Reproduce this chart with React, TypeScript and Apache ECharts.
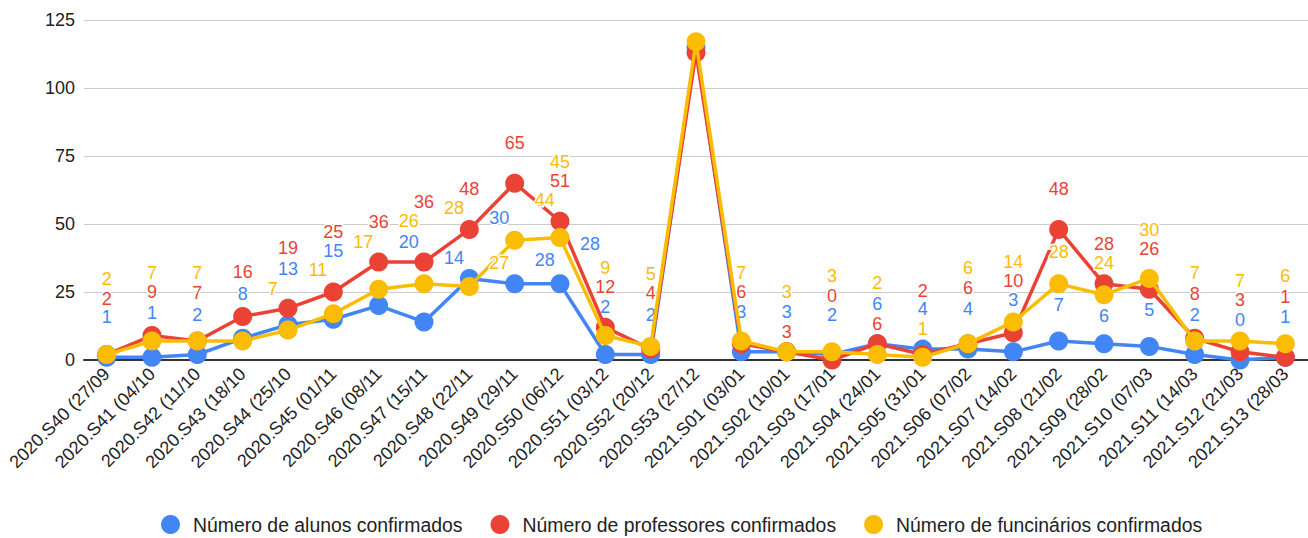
import React, { useEffect, useRef } from 'react';
import * as echarts from 'echarts';

const categories = [
  '2020.S40 (27/09', '2020.S41 (04/10', '2020.S42 (11/10', '2020.S43 (18/10', '2020.S44 (25/10',
  '2020.S45 (01/11', '2020.S46 (08/11', '2020.S47 (15/11', '2020.S48 (22/11', '2020.S49 (29/11',
  '2020.S50 (06/12', '2020.S51 (03/12', '2020.S52 (20/12', '2020.S53 (27/12',
  '2021.S01 (03/01', '2021.S02 (10/01', '2021.S03 (17/01', '2021.S04 (24/01', '2021.S05 (31/01',
  '2021.S06 (07/02', '2021.S07 (14/02', '2021.S08 (21/02', '2021.S09 (28/02', '2021.S10 (07/03',
  '2021.S11 (14/03', '2021.S12 (21/03', '2021.S13 (28/03',
];

const alunos = [1, 1, 2, 8, 13, 15, 20, 14, 30, 28, 28, 2, 2, 115, 3, 3, 2, 6, 4, 4, 3, 7, 6, 5, 2, 0, 1];
const professores = [2, 9, 7, 16, 19, 25, 36, 36, 48, 65, 51, 12, 4, 113, 6, 3, 0, 6, 2, 6, 10, 48, 28, 26, 8, 3, 1];
const funcionarios = [2, 7, 7, 7, 11, 17, 26, 28, 27, 44, 45, 9, 5, 117, 7, 3, 3, 2, 1, 6, 14, 28, 24, 30, 7, 7, 6];

const seriesNames = [
  'Número de alunos confirmados',
  'Número de professores confirmados',
  'Número de funcinários confirmados',
];
const seriesColors = ['#4285F4', '#EA4335', '#FBBC04'];

const yMin = 0;
const yMax = 125;
const yInterval = 25;

const FONT = '"Liberation Sans", Arial, sans-serif';
const LABEL_SIZE = 18;
const MARK = 19;

type Rect = { x1: number; y1: number; x2: number; y2: number };

export default function App() {
  const ref = useRef<HTMLDivElement>(null);

  useEffect(() => {
    document.body.style.margin = '0';
    const el = ref.current;
    if (!el) return;
    const chart = echarts.init(el, null, { renderer: 'svg' });
    const values = [alunos, professores, funcionarios];
    const hidden = (v: number) => v > yMax - 15;

    const mk = (s: number, data: any[]) => ({
      name: seriesNames[s],
      type: 'line',
      z: 2 + s,
      data,
      symbol: 'circle',
      symbolSize: MARK,
      showSymbol: true,
      lineStyle: { width: 3.5, color: seriesColors[s] },
      itemStyle: { color: seriesColors[s] },
      emphasis: { disabled: true },
      label: {
        show: true,
        position: 'inside',
        color: seriesColors[s],
        fontSize: LABEL_SIZE,
        fontFamily: FONT,
        textBorderColor: '#ffffff',
        textBorderWidth: 3,
      },
    });

    const base = {
      animation: false,
      backgroundColor: '#ffffff',
      textStyle: { fontFamily: FONT },
      grid: { left: 84, right: -12, top: 20, bottom: 178, containLabel: false },
      legend: {
        show: true,
        left: 156,
        top: 510,
        icon: 'circle',
        itemWidth: 19,
        itemHeight: 19,
        itemGap: 28,
        textStyle: { fontSize: 19.4, color: '#222222', fontFamily: FONT, padding: [0, 0, 0, 8] },
        data: seriesNames,
      },
      xAxis: {
        type: 'category',
        data: categories,
        boundaryGap: true,
        axisLine: { show: true, lineStyle: { color: '#333333', width: 2 } },
        axisTick: { show: false },
        axisLabel: { interval: 0, rotate: 45, margin: 11, fontSize: 18, color: '#222222', fontFamily: FONT },
        splitLine: { show: false },
      },
      yAxis: {
        type: 'value',
        min: yMin,
        max: yMax,
        interval: yInterval,
        axisLine: { show: false },
        axisTick: { show: false },
        axisLabel: { fontSize: 18, color: '#222222', margin: 9, fontFamily: FONT },
        splitLine: { show: true, lineStyle: { color: '#cccccc', width: 1 } },
      },
      series: values.map((vals, s) => mk(s, vals.map((v) => ({ value: v, label: { show: false } })))),
    };
    chart.setOption(base);

    // label placement: avoid overlaps with other labels and markers
    const pts = values.map((vals, s) =>
      vals.map((v, i) => chart.convertToPixel({ seriesIndex: s }, [i, v]) as unknown as number[])
    );
    const placed: Rect[] = [];
    const offsets: (number[] | null)[][] = values.map((v) => v.map(() => null));
    const dyList = [-40, -36, -32, -28, -24, -20, -44, -48, -52, -56, -60, -64, -68, -72, -76, -80];
    const dxList = [0, 30, -30, 44];
    const R = MARK / 2 + 1;
    const hitsRect = (a: Rect, b: Rect) => a.x1 < b.x2 && b.x1 < a.x2 && a.y1 < b.y2 && b.y1 < a.y2;
    const hitsCircle = (r: Rect, cx: number, cy: number) => {
      const nx = Math.max(r.x1, Math.min(cx, r.x2));
      const ny = Math.max(r.y1, Math.min(cy, r.y2));
      return (nx - cx) ** 2 + (ny - cy) ** 2 < R * R;
    };
    const order = [0, 1, 2];
    for (let i = 0; i < categories.length; i++) {
      for (const s of order) {
        const v = values[s][i];
        if (hidden(v)) continue;
        const [px, py] = pts[s][i];
        const w = String(v).length * 10 + 4;
        const h = 18;
        let chosen: number[] | null = null;
        let chosenRect: Rect | null = null;
        outer: for (const dx of dxList) {
          for (const dy of dyList) {
            const cx = px + dx;
            const cy = py + dy;
            const r = { x1: cx - w / 2, x2: cx + w / 2, y1: cy - h / 2, y2: cy + h / 2 };
            if (r.y1 < 2 || r.y2 > 368) continue;
            if (placed.some((o) => hitsRect(o, r))) continue;
            let bad = false;
            for (let t = 0; t < values.length && !bad; t++) {
              for (let j = 0; j < categories.length; j++) {
                if (t === s && j === i) continue;
                const [mx, my] = pts[t][j];
                if (Math.abs(mx - cx) > 60) continue;
                if (hitsCircle(r, mx, my)) { bad = true; break; }
              }
            }
            if (bad) continue;
            chosen = [dx, dy];
            chosenRect = r;
            break outer;
          }
        }
        if (!chosen) {
          chosen = [0, -40];
          chosenRect = { x1: px - w / 2, x2: px + w / 2, y1: py - 49, y2: py - 31 };
        }
        placed.push(chosenRect as Rect);
        offsets[s][i] = chosen;
      }
    }

    chart.setOption({
      series: values.map((vals, s) => ({
        data: vals.map((v, i) =>
          hidden(v)
            ? { value: v, label: { show: false } }
            : { value: v, label: { show: true, offset: offsets[s][i] } }
        ),
      })),
    });

    return () => chart.dispose();
  }, []);

  return <div ref={ref} style={{ width: 1308, height: 538 }} />;
}
